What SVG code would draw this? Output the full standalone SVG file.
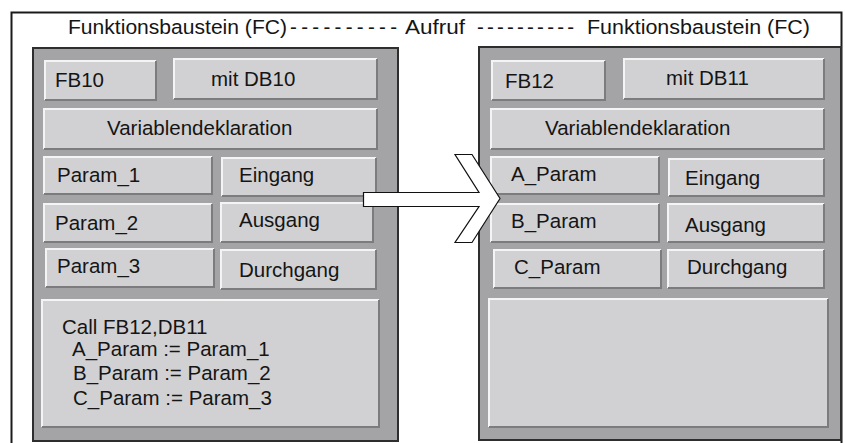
<svg xmlns="http://www.w3.org/2000/svg" width="845" height="443" viewBox="0 0 845 443">
<style>
.t{font-family:"Liberation Sans",Arial,sans-serif;font-size:20.5px;fill:#151515}
.panel{fill:#a4a4a6;stroke:#2e2e2e;stroke-width:2}
.box{fill:#d1d1d3}
.hi{fill:none;stroke:#f4f4f4;stroke-width:2}
.sh{fill:none;stroke:#7c7c7e;stroke-width:2}
.frame{fill:none;stroke:#1a1a1a;stroke-width:2}
</style>
<rect width="845" height="443" fill="#ffffff"/>
<path class="frame" d="M11.5,443 V12.5 H841.5 V443"/>
<g id="title">
<text class="t" x="68" y="34" textLength="219" lengthAdjust="spacingAndGlyphs">Funktionsbaustein (FC)</text>
<text class="t" x="290" y="34" textLength="107" lengthAdjust="spacing">----------</text>
<text class="t" x="405" y="34" textLength="60" lengthAdjust="spacingAndGlyphs">Aufruf</text>
<text class="t" x="477" y="34" textLength="97" lengthAdjust="spacing">----------</text>
<text class="t" x="587" y="34" textLength="223" lengthAdjust="spacingAndGlyphs">Funktionsbaustein (FC)</text>
</g>
<g id="panel-fb10">
<rect class="panel" x="33" y="48" width="365" height="393"/>
</g>
<g id="panel-fb12">
<rect class="panel" x="479" y="47" width="362" height="393"/>
</g>
<g id="fb10">
<rect class="box" x="45" y="61" width="111" height="39"/><path class="hi" d="M45,100 V61 H156"/><path class="sh" d="M45,100 H156 V61"/>
<text class="t" x="55" y="87">FB10</text>
</g>
<g id="mitdb10">
<rect class="box" x="174" y="59" width="203" height="40"/><path class="hi" d="M174,99 V59 H377"/><path class="sh" d="M174,99 H377 V59"/>
<text class="t" x="211" y="86">mit DB10</text>
</g>
<g id="vardekl-l">
<rect class="box" x="44" y="109" width="333" height="40"/><path class="hi" d="M44,149 V109 H377"/><path class="sh" d="M44,149 H377 V109"/>
<text class="t" x="107" y="135">Variablendeklaration</text>
</g>
<g id="param1">
<rect class="box" x="44" y="157" width="168" height="37"/><path class="hi" d="M44,194 V157 H212"/><path class="sh" d="M44,194 H212 V157"/>
<text class="t" x="57" y="182">Param_1</text>
</g>
<g id="eingang-l">
<rect class="box" x="222" y="158" width="154" height="38"/><path class="hi" d="M222,196 V158 H376"/><path class="sh" d="M222,196 H376 V158"/>
<text class="t" x="239" y="182">Eingang</text>
</g>
<g id="param2">
<rect class="box" x="44" y="204" width="168" height="38"/><path class="hi" d="M44,242 V204 H212"/><path class="sh" d="M44,242 H212 V204"/>
<text class="t" x="55" y="230">Param_2</text>
</g>
<g id="ausgang-l">
<rect class="box" x="221" y="203" width="152" height="39"/><path class="hi" d="M221,242 V203 H373"/><path class="sh" d="M221,242 H373 V203"/>
<text class="t" x="239" y="227">Ausgang</text>
</g>
<g id="param3">
<rect class="box" x="46" y="249" width="168" height="38"/><path class="hi" d="M46,287 V249 H214"/><path class="sh" d="M46,287 H214 V249"/>
<text class="t" x="57" y="273">Param_3</text>
</g>
<g id="durchgang-l">
<rect class="box" x="221" y="250" width="155" height="39"/><path class="hi" d="M221,289 V250 H376"/><path class="sh" d="M221,289 H376 V250"/>
<text class="t" x="239" y="277">Durchgang</text>
</g>
<g id="call">
<rect class="box" x="42" y="300" width="337" height="127"/><path class="hi" d="M42,427 V300 H379"/><path class="sh" d="M42,427 H379 V300"/>
<text class="t" x="62" y="334">Call FB12,DB11</text>
<text class="t" x="72" y="356">A_Param := Param_1</text>
<text class="t" x="73" y="380">B_Param := Param_2</text>
<text class="t" x="73" y="405">C_Param := Param_3</text>
</g>
<g id="fb12">
<rect class="box" x="492" y="61" width="113" height="39"/><path class="hi" d="M492,100 V61 H605"/><path class="sh" d="M492,100 H605 V61"/>
<text class="t" x="505" y="88">FB12</text>
</g>
<g id="mitdb11">
<rect class="box" x="624" y="59" width="200" height="40"/><path class="hi" d="M624,99 V59 H824"/><path class="sh" d="M624,99 H824 V59"/>
<text class="t" x="666" y="85">mit DB11</text>
</g>
<g id="vardekl-r">
<rect class="box" x="491" y="109" width="333" height="40"/><path class="hi" d="M491,149 V109 H824"/><path class="sh" d="M491,149 H824 V109"/>
<text class="t" x="545" y="135">Variablendeklaration</text>
</g>
<g id="a-param">
<rect class="box" x="491" y="157" width="168" height="37"/><path class="hi" d="M491,194 V157 H659"/><path class="sh" d="M491,194 H659 V157"/>
<text class="t" x="511" y="181">A_Param</text>
</g>
<g id="eingang-r">
<rect class="box" x="669" y="159" width="155" height="37"/><path class="hi" d="M669,196 V159 H824"/><path class="sh" d="M669,196 H824 V159"/>
<text class="t" x="685" y="185">Eingang</text>
</g>
<g id="b-param">
<rect class="box" x="491" y="204" width="168" height="38"/><path class="hi" d="M491,242 V204 H659"/><path class="sh" d="M491,242 H659 V204"/>
<text class="t" x="511" y="228">B_Param</text>
</g>
<g id="ausgang-r">
<rect class="box" x="668" y="204" width="156" height="38"/><path class="hi" d="M668,242 V204 H824"/><path class="sh" d="M668,242 H824 V204"/>
<text class="t" x="685" y="232">Ausgang</text>
</g>
<g id="c-param">
<rect class="box" x="494" y="250" width="167" height="38"/><path class="hi" d="M494,288 V250 H661"/><path class="sh" d="M494,288 H661 V250"/>
<text class="t" x="514" y="274">C_Param</text>
</g>
<g id="durchgang-r">
<rect class="box" x="668" y="250" width="156" height="38"/><path class="hi" d="M668,288 V250 H824"/><path class="sh" d="M668,288 H824 V250"/>
<text class="t" x="687" y="274">Durchgang</text>
</g>
<g id="empty-r">
<rect class="box" x="489" y="299" width="339" height="128"/><path class="hi" d="M489,427 V299 H828"/><path class="sh" d="M489,427 H828 V299"/>
</g>
<g id="connectors">
<polygon points="363.5,192.5 479,192.5 455,154.5 472,154.5 500,198.5 472,242.5 455,242.5 479,206.5 363.5,206.5" fill="#ffffff" stroke="#111111" stroke-width="1.2" stroke-linejoin="miter"/>
</g>
</svg>
